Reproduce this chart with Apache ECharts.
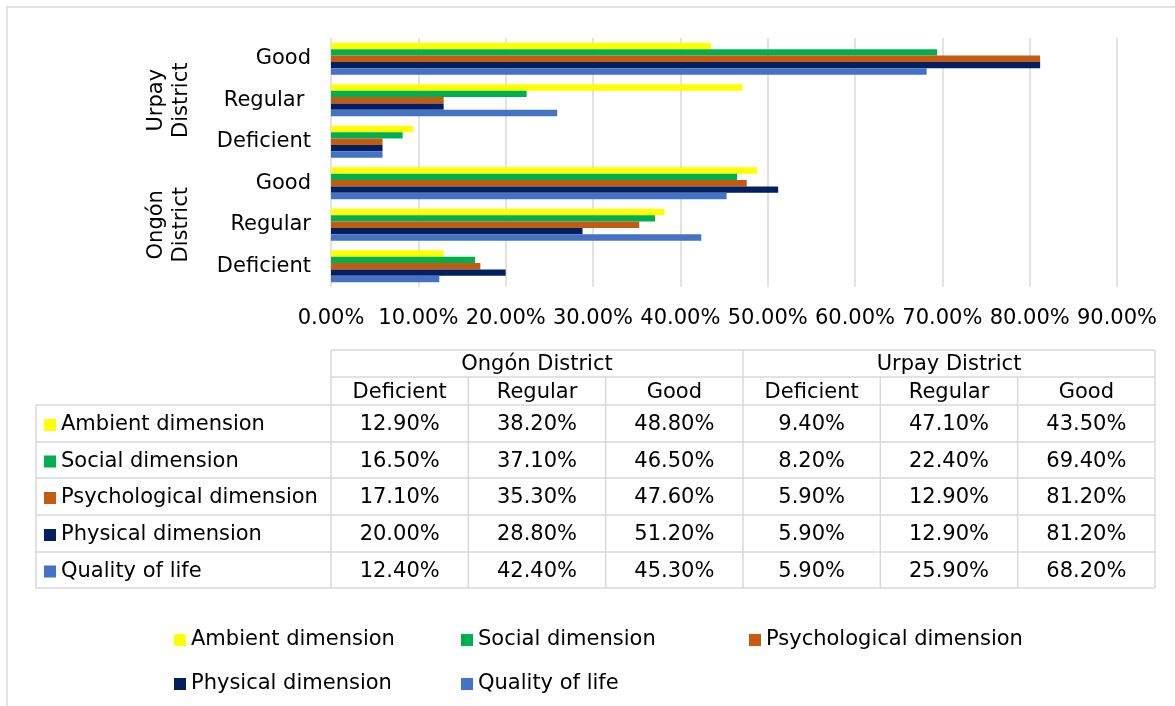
<!DOCTYPE html>
<html><head><meta charset="utf-8">
<script src="https://cdn.jsdelivr.net/npm/echarts@6/dist/echarts.min.js"></script>
<style>html,body{margin:0;padding:0;background:#fff}#c{width:1175px;height:706px}</style>
</head><body><div id="c"></div>
<script>
// ---- data ----
const districts = ['Ongón District', 'Urpay District'];
const levels = ['Deficient', 'Regular', 'Good'];
const categories = ['Ongón|Deficient', 'Ongón|Regular', 'Ongón|Good', 'Urpay|Deficient', 'Urpay|Regular ', 'Urpay|Good'];
const seriesNames = ['Ambient dimension', 'Social dimension', 'Psychological dimension', 'Physical dimension', 'Quality of life'];
const ambient = [12.9, 38.2, 48.8, 9.4, 47.1, 43.5];
const social = [16.5, 37.1, 46.5, 8.2, 22.4, 69.4];
const psychological = [17.1, 35.3, 47.6, 5.9, 12.9, 81.2];
const physical = [20.0, 28.8, 51.2, 5.9, 12.9, 81.2];
const quality = [12.4, 42.4, 45.3, 5.9, 25.9, 68.2];
const xMin = 0, xMax = 90, xStep = 10;

// ---- style ----
const colors = ['#FFFF00', '#00B050', '#C55A11', '#002060', '#4472C4'];
const FONT = 'DejaVu Sans';
const FS = 21;
const LINE = '#d9d9d9';
const seriesValues = [ambient, social, psychological, physical, quality];

const chart = echarts.init(document.getElementById('c'), null, {renderer: 'canvas'});

// table layout
const tLeft = 36, tNameR = 331, tRight = 1155;
const colW = (tRight - tNameR) / 6;
const rowY = [350, 377, 405, 442, 478, 515, 552, 588];

const graphics = [];
// outer border
graphics.push({type: 'rect', shape: {x: 7, y: 7, width: 1190, height: 720}, style: {fill: 'none', stroke: LINE, lineWidth: 1.5}, silent: true});
function hline(y, x1, x2) { graphics.push({type: 'line', shape: {x1: x1, y1: y, x2: x2, y2: y}, style: {stroke: LINE, lineWidth: 1.5}, silent: true}); }
function vline(x, y1, y2) { graphics.push({type: 'line', shape: {x1: x, y1: y1, x2: x, y2: y2}, style: {stroke: LINE, lineWidth: 1.5}, silent: true}); }
function txt(x, y, s, align) { graphics.push({type: 'text', x: x, y: y, style: {text: s, fill: '#000', font: FS + 'px "' + FONT + '"', textAlign: align || 'center', textVerticalAlign: 'middle'}, silent: true}); }
hline(rowY[0], tNameR, tRight);
hline(rowY[1], tNameR, tRight);
for (let i = 2; i < rowY.length; i++) hline(rowY[i], tLeft, tRight);
vline(tLeft, rowY[2], rowY[7]);
vline(tNameR, rowY[0], rowY[7]);
vline(tNameR + 3 * colW, rowY[0], rowY[7]);
vline(tRight, rowY[0], rowY[7]);
[1, 2, 4, 5].forEach(k => vline(tNameR + k * colW, rowY[1], rowY[7]));
// headers
districts.forEach((d, i) => txt(tNameR + (i * 3 + 1.5) * colW, (rowY[0] + rowY[1]) / 2 + 1.5, d));
for (let k = 0; k < 6; k++) txt(tNameR + (k + 0.5) * colW, (rowY[1] + rowY[2]) / 2 + 1.5, levels[k % 3]);
// rows
seriesNames.forEach((name, r) => {
  const yc = (rowY[r + 2] + rowY[r + 3]) / 2 + 1.5;
  graphics.push({type: 'rect', shape: {x: 44, y: yc - 6, width: 12, height: 12}, style: {fill: colors[r]}, silent: true});
  txt(61, yc, name, 'left');
  seriesValues[r].forEach((v, k) => txt(tNameR + (k + 0.5) * colW, yc, v.toFixed(2) + '%'));
});

// legends, one per item to get column layout
const legendPos = [[174, 628], [461, 628], [749, 628], [174, 672], [461, 672]];
const legends = seriesNames.map((n, i) => ({
  data: [n], left: legendPos[i][0], top: legendPos[i][1], padding: 0,
  itemWidth: 12, itemHeight: 12, icon: 'rect', selectedMode: false,
  textStyle: {fontFamily: FONT, fontSize: FS, color: '#000', lineHeight: 24}
}));

const option = {
  animation: false,
  backgroundColor: '#fff',
  color: colors,
  grid: {left: 331, right: 58, top: 38, bottom: 419},
  legend: legends,
  xAxis: {
    type: 'value', min: xMin, max: xMax, interval: xStep,
    axisLine: {show: false}, axisTick: {show: false},
    splitLine: {show: true, lineStyle: {color: LINE, width: 1.5}},
    axisLabel: {fontFamily: FONT, fontSize: FS, color: '#000', margin: 21,
      formatter: v => v.toFixed(2) + '%'}
  },
  yAxis: {
    type: 'category', data: categories,
    axisLine: {show: false}, axisTick: {show: false},
    axisLabel: {fontFamily: FONT, fontSize: FS, color: '#000', margin: 20,
      formatter: v => v.split('|')[1]}
  },
  series: seriesNames.map((n, i) => ({
    name: n, type: 'bar', data: seriesValues[i],
    barGap: '0%', barCategoryGap: '23%',
    itemStyle: {color: colors[i]}
  })),
  graphic: graphics
};
chart.setOption(option);

// district labels on the category axis, centred on each district group
const urpayY = chart.convertToPixel({yAxisIndex: 0}, categories[4]);
const ongonY = chart.convertToPixel({yAxisIndex: 0}, categories[1]);
const distGraphics = [
  {type: 'text', x: 169, y: urpayY, rotation: Math.PI / 2, style: {text: 'Urpay\nDistrict', fill: '#000', font: FS + 'px "' + FONT + '"', textAlign: 'center', textVerticalAlign: 'middle', lineHeight: 25}, silent: true},
  {type: 'text', x: 169, y: ongonY, rotation: Math.PI / 2, style: {text: 'Ongón\nDistrict', fill: '#000', font: FS + 'px "' + FONT + '"', textAlign: 'center', textVerticalAlign: 'middle', lineHeight: 25}, silent: true}
];
chart.setOption({graphic: graphics.concat(distGraphics)});
</script>
</body></html>
